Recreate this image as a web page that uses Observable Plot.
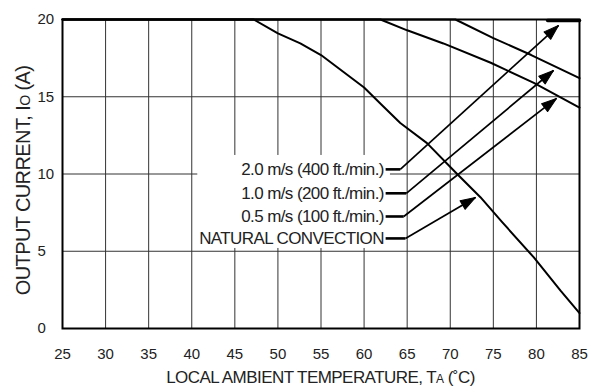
<!DOCTYPE html>
<html><head><meta charset="utf-8">
<script src="https://cdn.jsdelivr.net/npm/d3@7"></script>
<script src="https://cdn.jsdelivr.net/npm/@observablehq/plot@0.6"></script>
<style>
body{margin:0;background:#fff;}
#chart svg{font-family:"Liberation Sans",Arial,sans-serif;}
g[aria-label="text"] text{letter-spacing:-0.6px;}
</style></head><body><div id="chart"></div>
<script>
// Tick values
const xTicks = [25,30,35,40,45,50,55,60,65,70,75,80,85];
const yTicks = [0,5,10,15,20];
// Derating curves (temperature °C, current A)
const ncTemp = [25,47.2,50,52.6,55,60,62,64.2,67.3,70.8,73.5,76,79.7,82.8,85];
const ncCurr = [20,20,19.1,18.45,17.7,15.6,14.5,13.3,12.0,10.0,8.5,6.9,4.6,2.45,1.0];
const halfTemp = [25,61.9,65,69.2,74.7,79.7,85];
const halfCurr = [20,20,19.3,18.45,17.2,15.9,14.3];
const oneTemp = [25,70.6,75,79.4,85];
const oneCurr = [20,20,18.8,17.7,16.2];
const twoTemp = [81.3,85];
const twoCurr = [20,20];
// Callout labels
const labels = ["2.0 m/s (400 ft./min.)","1.0 m/s (200 ft./min.)","0.5 m/s (100 ft./min.)","NATURAL CONVECTION"];
const labelY = [10.3,8.75,7.25,5.83];
const labelEndX = [62.3,62.3,62.3,62.3];
const dashEndX = [64.2,64.9,64.6,64.8];
const tipX = [82.56,81.98,82.33,72.93];
const tipY = [19.61,16.70,14.89,8.48];
// white backing box behind the callout labels [x1,x2,y1,y2]
const labelBox = [40.7,63.06,5.18,11.2];

const toRows = (t, c) => t.map((v,i)=>({T:v, I:c[i]}));
const nc = toRows(ncTemp, ncCurr), half = toRows(halfTemp, halfCurr), one = toRows(oneTemp, oneCurr), two = toRows(twoTemp, twoCurr);
const callouts = labels.map((l,i)=>({label:l, y:labelY[i], xe:labelEndX[i], xd:dashEndX[i], tx:tipX[i], ty:tipY[i]}));

const baseMarks = [
  Plot.ruleX(xTicks, {stroke:"#333", strokeWidth:1}),
  Plot.ruleY(yTicks.filter(v=>v>0&&v<20), {stroke:"#333", strokeWidth:1}),
  Plot.rect([labelBox], {x1:d=>d[0], x2:d=>d[1], y1:d=>d[2], y2:d=>d[3], fill:"white"}),
  Plot.line(nc, {x:"T", y:"I", stroke:"black", strokeWidth:2}),
  Plot.line(half, {x:"T", y:"I", stroke:"black", strokeWidth:2}),
  Plot.line(one, {x:"T", y:"I", stroke:"black", strokeWidth:2}),
  Plot.frame({stroke:"black", strokeWidth:2}),
  Plot.line(two, {x:"T", y:"I", stroke:"black", strokeWidth:3.5, dy:1}),
  Plot.text(callouts, {x:"xe", y:"y", text:"label", textAnchor:"end", fontSize:17, fill:"#222"}),
  Plot.link(callouts, {x1:d=>d.xe+0.2, x2:"xd", y1:"y", y2:"y", stroke:"black", strokeWidth:2.6}),
  Plot.link(callouts, {x1:"xd", y1:"y", x2:"tx", y2:"ty", stroke:"black", strokeWidth:1.7}),
  Plot.axisX({ticks:xTicks, tickSize:0, tickPadding:20, fontSize:15, label:null}),
  Plot.axisY({ticks:yTicks, tickSize:0, tickPadding:25, textAnchor:"start", fontSize:15, label:null})
];
const opts = {
  width:600, height:387,
  marginLeft:62, marginRight:21, marginTop:19, marginBottom:59,
  x:{domain:[25,85]}, y:{domain:[0,20]},
  style:{fontFamily:"Liberation Sans, Arial, sans-serif", color:"#222", background:"white"}
};
const probe = Plot.plot({...opts, marks:baseMarks});
const sx = probe.scale("x"), sy = probe.scale("y");
const head = {draw(ctx, l){ const w = 5; ctx.moveTo(0,-l); ctx.lineTo(-w,0); ctx.lineTo(w,0); ctx.closePath(); }};
const rot = d => { const dx = sx.apply(d.tx)-sx.apply(d.xd); const dy = sy.apply(d.ty)-sy.apply(d.y); return Math.atan2(dx,-dy)*180/Math.PI; };
const plot = Plot.plot({...opts, marks:[...baseMarks,
  Plot.vector(callouts, {x:"tx", y:"ty", rotate:rot, length:15, anchor:"end", shape:head, fill:"black", stroke:"black", strokeWidth:1})
]});
document.getElementById("chart").appendChild(plot);

const svg = d3.select(plot);
const xr = sx.range, yr = sy.range;
const xt = svg.append("text").attr("x",(xr[0]+xr[1])/2).attr("y",383).attr("text-anchor","middle")
  .attr("font-size",17).attr("letter-spacing","-0.55px").attr("fill","#222");
xt.append("tspan").text("LOCAL AMBIENT TEMPERATURE, T");
xt.append("tspan").attr("font-size",12).text("A");
xt.append("tspan").text(" (˚C)");
const yt = svg.append("text").attr("transform",`translate(30,${(yr[0]+yr[1])/2+7}) rotate(-90)`).attr("text-anchor","middle")
  .attr("font-size",20).attr("letter-spacing","-0.6px").attr("fill","#222");
yt.append("tspan").text("OUTPUT CURRENT, I");
yt.append("tspan").attr("font-size",14).text("O");
yt.append("tspan").text(" (A)");
</script></body></html>
